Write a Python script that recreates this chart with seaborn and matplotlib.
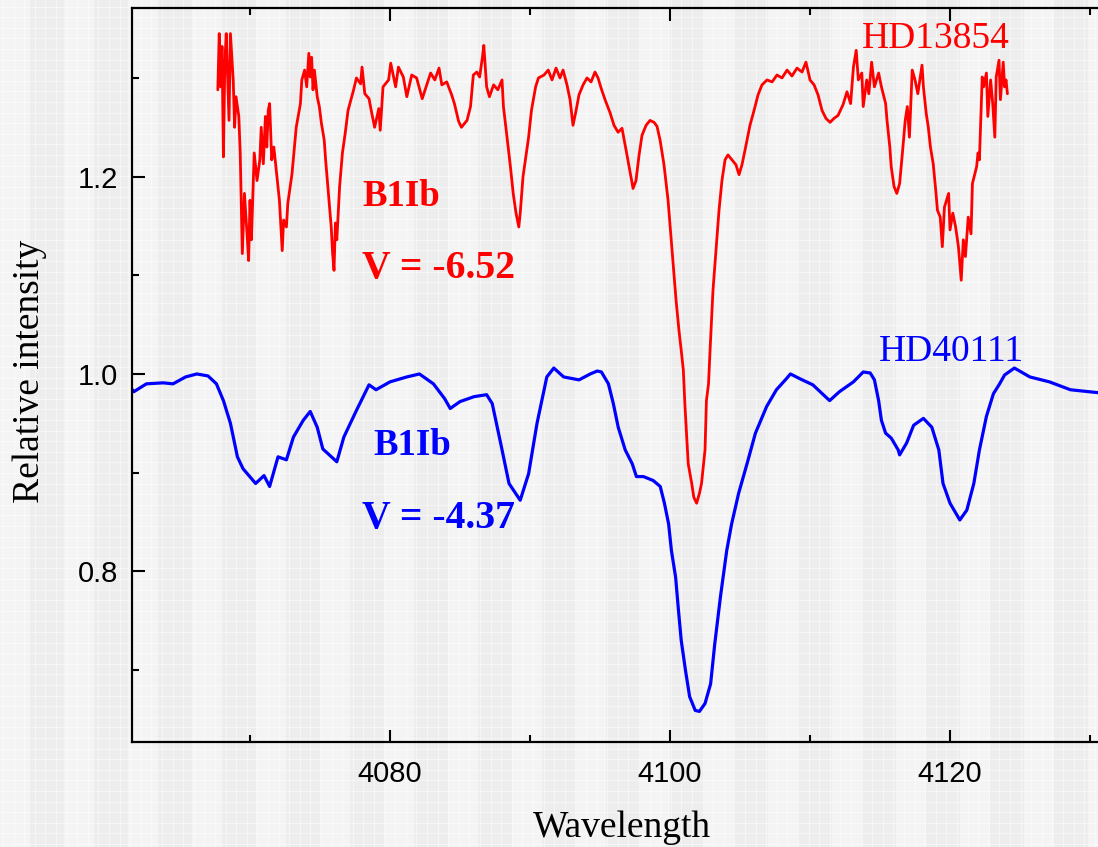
import numpy as np
import pandas as pd
import matplotlib
matplotlib.use("Agg")
import matplotlib.pyplot as plt
from matplotlib.ticker import MultipleLocator
import seaborn as sns

# ---------------- data ----------------
blue_wl = [4061.6, 4061.7, 4062.6, 4063.8, 4064.5, 4065.4, 4066.2, 4067.0, 4067.6, 4068.1,
           4068.6, 4069.1, 4069.5, 4070.4, 4071.0, 4071.4, 4072.0, 4072.6, 4073.1, 4073.8,
           4074.3, 4074.8, 4075.2, 4076.2, 4076.7, 4077.6, 4078.5, 4079.0, 4080.0, 4081.2,
           4082.1, 4083.1, 4083.9, 4084.3, 4085.0, 4086.0, 4086.9, 4087.3, 4087.9, 4088.5,
           4089.3, 4089.9, 4090.5, 4091.2, 4091.7, 4092.4, 4093.5, 4094.3, 4094.8, 4095.1,
           4095.6, 4095.95, 4096.3, 4096.8, 4097.3, 4097.6, 4098.1, 4098.8, 4099.3, 4099.6,
           4099.9, 4100.1, 4100.4, 4100.6, 4100.8, 4101.1, 4101.4, 4101.8, 4102.1, 4102.5,
           4102.9, 4103.2, 4103.6, 4104.05, 4104.4, 4104.9, 4105.5, 4106.1, 4106.9, 4107.6,
           4108.3, 4108.6, 4109.3, 4110.2, 4111.4, 4112.1, 4113.1, 4113.8, 4114.3, 4114.6,
           4114.9, 4115.1, 4115.4, 4115.8, 4116.3, 4116.4, 4116.9, 4117.4, 4118.1, 4118.7,
           4119.2, 4119.5, 4120.0, 4120.7, 4121.2, 4121.7, 4122.1, 4122.6, 4123.1, 4123.5,
           4123.9, 4124.6, 4125.7, 4127.1, 4128.6, 4130.6]
blue_val = [0.984, 0.982, 0.990, 0.991, 0.990, 0.997, 1.000, 0.998, 0.990, 0.973,
            0.950, 0.916, 0.904, 0.889, 0.897, 0.886, 0.916, 0.913, 0.936, 0.953,
            0.962, 0.946, 0.924, 0.911, 0.936, 0.963, 0.989, 0.984, 0.992, 0.997,
            1.000, 0.990, 0.975, 0.965, 0.972, 0.977, 0.979, 0.970, 0.930, 0.889,
            0.872, 0.899, 0.950, 0.997, 1.006, 0.997, 0.994, 1.000, 1.003, 1.002,
            0.990, 0.970, 0.946, 0.923, 0.909, 0.896, 0.896, 0.892, 0.886, 0.869,
            0.848, 0.821, 0.794, 0.761, 0.730, 0.700, 0.673, 0.659, 0.658, 0.666,
            0.686, 0.727, 0.774, 0.821, 0.848, 0.879, 0.909, 0.940, 0.967, 0.984,
            0.995, 1.000, 0.995, 0.989, 0.973, 0.982, 0.992, 1.002, 1.001, 0.994,
            0.973, 0.953, 0.940, 0.935, 0.923, 0.918, 0.930, 0.948, 0.955, 0.946,
            0.923, 0.889, 0.869, 0.852, 0.862, 0.889, 0.923, 0.957, 0.980, 0.989,
            0.999, 1.006, 0.997, 0.992, 0.984, 0.981]

red_wl = [4067.7, 4067.8, 4067.9, 4068.0, 4068.1, 4068.2, 4068.3, 4068.5, 4068.6, 4068.8,
          4068.9, 4069.0, 4069.2, 4069.3, 4069.45, 4069.6, 4069.8, 4069.9, 4070.0, 4070.1,
          4070.3, 4070.5, 4070.7, 4070.8, 4070.95, 4071.1, 4071.2, 4071.3, 4071.4, 4071.55,
          4071.7, 4071.9, 4072.1, 4072.3, 4072.4, 4072.6, 4072.7, 4073.0, 4073.3, 4073.6,
          4073.7, 4073.9, 4074.05, 4074.2, 4074.3, 4074.4, 4074.5, 4074.6, 4074.8, 4074.95,
          4075.1, 4075.3, 4075.4, 4075.6, 4075.8, 4075.9, 4076.0, 4076.1, 4076.2, 4076.4,
          4076.6, 4076.8, 4077.0, 4077.4, 4077.6, 4077.9, 4078.0, 4078.2, 4078.5, 4078.7,
          4078.9, 4079.2, 4079.3, 4079.5, 4079.9, 4080.05, 4080.4, 4080.6, 4080.95, 4081.2,
          4081.55, 4081.9, 4082.3, 4082.9, 4083.2, 4083.5, 4083.7, 4084.05, 4084.4, 4084.6,
          4084.9, 4085.1, 4085.5, 4085.75, 4085.95, 4086.2, 4086.4, 4086.6, 4086.7, 4086.9,
          4087.1, 4087.4, 4087.7, 4088.0, 4088.1, 4088.3, 4088.6, 4088.8, 4089.0, 4089.2,
          4089.3, 4089.5, 4089.9, 4090.1, 4090.4, 4090.6, 4091.0, 4091.3,
          4091.57, 4091.86, 4092.14, 4092.36, 4092.64, 4092.86, 4093.07, 4093.29, 4093.5,
          4093.79, 4094.07, 4094.36, 4094.64, 4094.86, 4095.07, 4095.36, 4095.71, 4096.0,
          4096.29, 4096.57, 4096.86, 4097.14, 4097.36, 4097.57, 4097.79, 4098.0, 4098.29,
          4098.57, 4098.86, 4099.07, 4099.29, 4099.57, 4099.86, 4100.14, 4100.43, 4100.64,
          4100.8, 4100.95, 4101.07, 4101.3, 4101.55, 4101.7, 4101.9, 4102.1, 4102.25,
          4102.5, 4102.6, 4102.75, 4102.86,
          4103.07, 4103.29, 4103.5, 4103.71, 4103.93, 4104.14, 4104.43, 4104.71, 4104.93,
          4105.14, 4105.43, 4105.71, 4106.0, 4106.29, 4106.57, 4106.93, 4107.29, 4107.64,
          4108.0, 4108.36, 4108.71, 4109.07, 4109.43, 4109.71, 4110.0, 4110.29, 4110.57,
          4110.86, 4111.14, 4111.43, 4111.71, 4112.0, 4112.36, 4112.64,
          4112.9, 4113.1, 4113.3, 4113.45, 4113.7, 4113.8, 4114.05, 4114.2, 4114.4, 4114.6,
          4114.9, 4115.1, 4115.4, 4115.5, 4115.7, 4115.8, 4116.0, 4116.2, 4116.4, 4116.6,
          4116.8, 4116.95, 4117.1, 4117.3, 4117.5, 4117.7, 4118.0, 4118.1, 4118.3, 4118.45,
          4118.6, 4118.8, 4119.0, 4119.1, 4119.3, 4119.45, 4119.6, 4119.9, 4120.0, 4120.2,
          4120.4, 4120.6, 4120.8, 4120.95, 4121.1, 4121.3, 4121.5, 4121.6, 4121.9, 4122.0,
          4122.1, 4122.3, 4122.4, 4122.6, 4122.7, 4122.9, 4123.05, 4123.2, 4123.3, 4123.5,
          4123.6, 4123.8, 4123.9, 4124.0, 4124.1]
red_val = [1.288, 1.345, 1.291, 1.332, 1.220, 1.315, 1.345, 1.257, 1.345, 1.298,
           1.250, 1.281, 1.261, 1.224, 1.122, 1.183, 1.139, 1.115, 1.176, 1.136,
           1.224, 1.196, 1.217, 1.250, 1.213, 1.261, 1.230, 1.267, 1.274, 1.217,
           1.230, 1.203, 1.176, 1.125, 1.156, 1.149, 1.173, 1.203, 1.250, 1.274,
           1.298, 1.308, 1.291, 1.325, 1.301, 1.321, 1.288, 1.308, 1.281, 1.271,
           1.254, 1.237, 1.217, 1.183, 1.149, 1.122, 1.105, 1.153, 1.136, 1.190,
           1.224, 1.244, 1.267, 1.288, 1.300, 1.294, 1.311, 1.284, 1.279, 1.264,
           1.250, 1.269, 1.247, 1.291, 1.298, 1.315, 1.291, 1.311, 1.301, 1.281,
           1.303, 1.300, 1.279, 1.305, 1.298, 1.310, 1.293, 1.296, 1.283, 1.274,
           1.256, 1.250, 1.257, 1.271, 1.303, 1.306, 1.301, 1.321, 1.333, 1.291,
           1.281, 1.293, 1.288, 1.298, 1.271, 1.247, 1.210, 1.183, 1.163, 1.149,
           1.163, 1.200, 1.240, 1.267, 1.291, 1.300, 1.303, 1.308,
           1.298, 1.310, 1.300, 1.308, 1.293, 1.278, 1.252, 1.267, 1.283,
           1.293, 1.300, 1.296, 1.306, 1.300, 1.290, 1.278, 1.265, 1.252,
           1.245, 1.249, 1.227, 1.205, 1.188, 1.196, 1.222, 1.242, 1.252,
           1.257, 1.255, 1.251, 1.237, 1.212, 1.176, 1.126, 1.075, 1.044,
           1.024, 1.004, 0.967, 0.909, 0.889, 0.875, 0.869, 0.879, 0.889,
           0.923, 0.973, 0.990, 1.024,
           1.085, 1.126, 1.166, 1.196, 1.217, 1.222, 1.217, 1.212, 1.202,
           1.212, 1.232, 1.252, 1.267, 1.283, 1.293, 1.298, 1.296, 1.303,
           1.300, 1.308, 1.302, 1.310, 1.306, 1.316, 1.298, 1.293, 1.283,
           1.267, 1.259, 1.255, 1.259, 1.262, 1.273, 1.286,
           1.274, 1.311, 1.328, 1.298, 1.305, 1.271, 1.298, 1.284, 1.316, 1.291,
           1.305, 1.291, 1.274, 1.257, 1.230, 1.210, 1.190, 1.183, 1.193, 1.224,
           1.257, 1.271, 1.240, 1.308, 1.298, 1.284, 1.313, 1.291, 1.264, 1.250,
           1.230, 1.213, 1.183, 1.166, 1.159, 1.129, 1.169, 1.183, 1.146, 1.163,
           1.149, 1.129, 1.095, 1.136, 1.119, 1.159, 1.142, 1.193, 1.210, 1.224,
           1.217, 1.301, 1.291, 1.305, 1.261, 1.298, 1.274, 1.240, 1.301, 1.318,
           1.278, 1.316, 1.291, 1.298, 1.284]

x_major = [4080, 4100, 4120]
y_major = [0.8, 1.0, 1.2]

# ---------------- figure ----------------
W, H = 1098, 847
sns.set_style("ticks")
plt.rcParams["font.family"] = ["Liberation Sans", "DejaVu Sans"]
plt.rcParams["text.color"] = "black"
plt.rcParams["axes.labelcolor"] = "black"
plt.rcParams["xtick.color"] = "black"
plt.rcParams["ytick.color"] = "black"
fig = plt.figure(figsize=(W / 100, H / 100), dpi=100)
fig.patch.set_facecolor("#ededed")

# textured background
bg = fig.add_axes([0, 0, 1, 1], zorder=-10)
bg.set_xlim(0, W)
bg.set_ylim(0, H)
bg.axis("off")
for x0 in np.arange(0, W, 64):
    bg.axvspan(x0, x0 + 30, color="#f4f4f4", lw=0)
for x in np.arange(3, W, 10.6):
    bg.axvline(x, color="white", lw=0.6, alpha=0.55)
for y in np.arange(3, H, 10.6):
    bg.axhline(y, color="white", lw=0.6, alpha=0.55)

left = 132 / W
bottom = (H - 742) / H
top = (H - 8.3) / H
ax = fig.add_axes([left, bottom, 1 - left, top - bottom])
ax.set_facecolor("none")

red_df = pd.DataFrame({"wl": red_wl, "val": red_val})
blue_df = pd.DataFrame({"wl": blue_wl, "val": blue_val})
sns.lineplot(data=blue_df, x="wl", y="val", sort=False, estimator=None,
             color="#0000ff", lw=2.3, ax=ax)
sns.lineplot(data=red_df, x="wl", y="val", sort=False, estimator=None,
             color="#ff0000", lw=2.0, ax=ax)

ax.set_xlim(4061.57, 4130.57)
ax.set_ylim(0.627, 1.3706)
ax.set_xticks(x_major)
ax.set_yticks(y_major)
ax.set_yticklabels(["0.8", "1.0", "1.2"])
ax.xaxis.set_minor_locator(MultipleLocator(10))
ax.yaxis.set_minor_locator(MultipleLocator(0.1))
ax.tick_params(which="both", direction="in", top=True, right=False,
               colors="black", labelcolor="black", labelsize=21, width=1.5)
ax.tick_params(which="major", length=9)
ax.tick_params(which="minor", length=5)
ax.tick_params(axis="x", pad=13)
ax.tick_params(axis="y", pad=10)
for s in ["left", "bottom", "top"]:
    ax.spines[s].set_linewidth(1.6)
    ax.spines[s].set_color("black")
ax.spines["right"].set_visible(False)

serif = ["Liberation Serif", "DejaVu Serif"]
ax.set_xlabel("Wavelength", family=serif, fontsize=27, color="black")
ax.set_ylabel("Relative intensity", family=serif, fontsize=27, color="black")
ax.xaxis.set_label_coords(0.507, -0.093)
ax.yaxis.set_label_coords(-0.088, 0.505)

ax.text(4113.7, 1.322, "HD13854", family=serif, fontsize=27, color="#ff0000",
        ha="left", va="bottom")
ax.text(4114.9, 1.005, "HD40111", family=serif, fontsize=27, color="#0000ff",
        ha="left", va="bottom")
ax.text(4078.0, 1.180, "B1Ib", family=serif, fontsize=26.5, fontweight="bold",
        color="#ff0000", ha="left", va="center")
ax.text(4078.0, 1.107, "V = -6.52", family=serif, fontsize=28.5, fontweight="bold",
        color="#ff0000", ha="left", va="center")
ax.text(4078.8, 0.927, "B1Ib", family=serif, fontsize=26.5, fontweight="bold",
        color="#0000ff", ha="left", va="center")
ax.text(4078.0, 0.854, "V = -4.37", family=serif, fontsize=28.5, fontweight="bold",
        color="#0000ff", ha="left", va="center")

fig.savefig("out.png", dpi=100, facecolor=fig.get_facecolor())
